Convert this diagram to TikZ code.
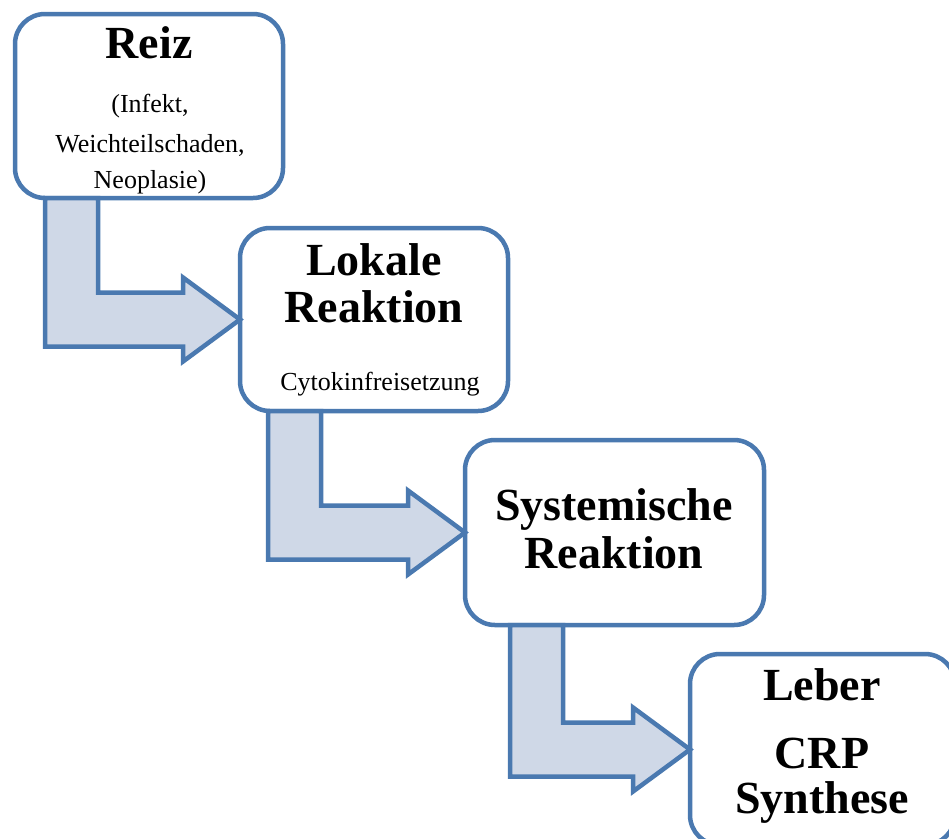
\documentclass[tikz,border=0pt]{standalone}
\usepackage{fontspec}
\setmainfont{Liberation Serif}
\usetikzlibrary{calc}
\definecolor{frame}{HTML}{4A79B0}
\definecolor{shade}{HTML}{CFD8E7}

% bent block arrow: from box #1 down and right into box #2, shaft offset #3
\newcommand{\bentarrow}[3]{%
  \draw[bent] let \p1=(#1.south west), \p2=(#2.west) in
    (\x1+#3, \y1) -- (\x1+#3, \y2-27pt) -- (\x2-57pt, \y2-27pt) -- (\x2-57pt, \y2-42pt)
    -- (\p2) -- (\x2-57pt, \y2+42pt) -- (\x2-57pt, \y2+27pt) -- (\x1+#3+53pt, \y2+27pt)
    -- (\x1+#3+53pt, \y1) -- cycle;}

\begin{document}
\begin{tikzpicture}[x=1pt, y=-1pt,
    stage/.style={draw=frame, line width=4.5pt, fill=white, rounded corners=30pt, outer sep=0pt, inner sep=0pt},
    bent/.style={draw=frame, line width=4.5pt, fill=shade, line join=miter},
    title/.style={anchor=base, inner sep=0pt, font=\fontsize{46}{48}\selectfont\bfseries},
    note/.style={anchor=base, inner sep=0pt, font=\fontsize{26}{38}\selectfont}]

  \clip (0,0) rectangle (949,838);

  % Stage boxes.
  \node[stage, minimum width=268pt, minimum height=184pt] (reiz) at (149,106) {};
  \node[stage, minimum width=268pt, minimum height=183pt] (lokal) at (374,319.5) {};
  \node[stage, minimum width=299pt, minimum height=185pt] (system) at (614.5,532.5) {};
  \node[stage, minimum width=265pt, minimum height=191pt] (leber) at (822.5,749.5) {};

  % Bent arrows between the stages.
  \bentarrow{reiz}{lokal}{30pt}
  \bentarrow{lokal}{system}{28pt}
  \bentarrow{system}{leber}{45pt}

  % Box texts.
  \node[title] (reizT) at (149,58) {Reiz};
  \node[note] (reizA) at (150,112) {(Infekt,};
  \node[note] (reizB) at (150,152) {Weichteilschaden,};
  \node[note] (reizC) at (150,188) {Neoplasie)};

  \node[title] (lokalA) at (374,275) {Lokale};
  \node[title] (lokalB) at (374,322) {Reaktion};
  \node[note] (lokalC) at (380,390) {Cytokinfreisetzung};

  \node[title] (systemA) at (614,520) {Systemische};
  \node[title] (systemB) at (614,568) {Reaktion};

  \node[title] (leberA) at (822,700) {Leber};
  \node[title] (leberB) at (822,768) {CRP};
  \node[title] (leberC) at (822,813) {Synthese};
\end{tikzpicture}
\end{document}
